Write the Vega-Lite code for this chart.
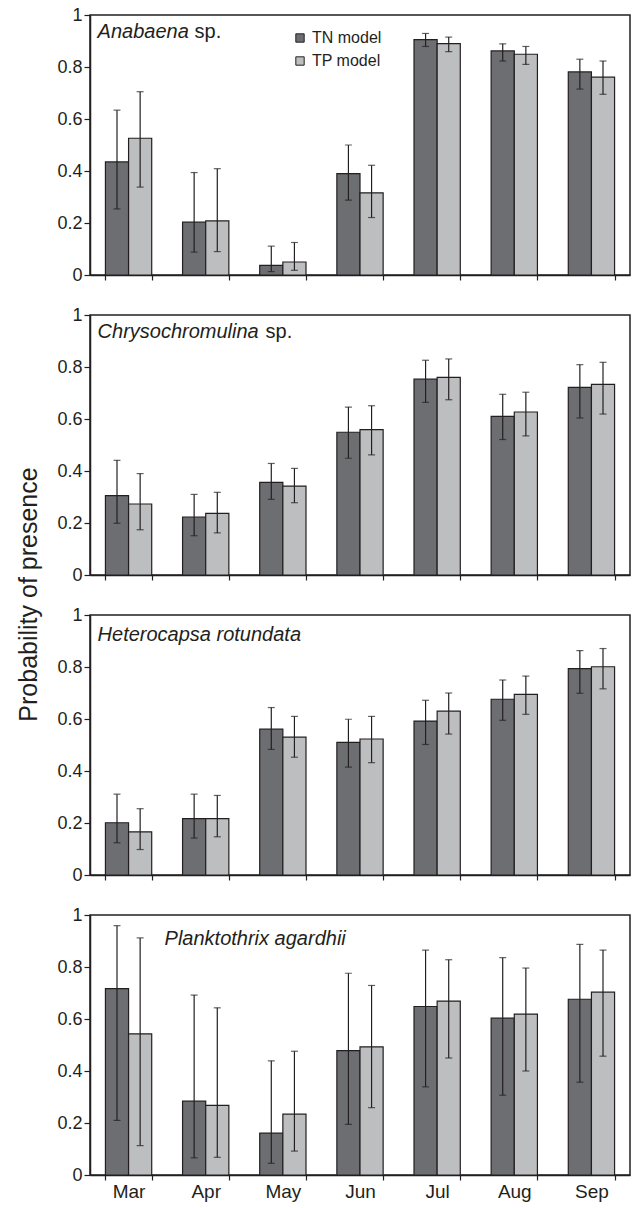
{
  "$schema": "https://vega.github.io/schema/vega-lite/v6.json",
  "padding": {"left": 15, "top": 5, "right": 2, "bottom": 2},
  "spacing": 40,
  "bounds": "flush",
  "datasets": {
    "d": [
      {"sp": "Anabaena", "month": "Mar", "model": "TN", "p": 0.435, "lo": 0.254, "hi": 0.634},
      {"sp": "Anabaena", "month": "Mar", "model": "TP", "p": 0.526, "lo": 0.338, "hi": 0.705},
      {"sp": "Anabaena", "month": "Apr", "model": "TN", "p": 0.203, "lo": 0.088, "hi": 0.394},
      {"sp": "Anabaena", "month": "Apr", "model": "TP", "p": 0.208, "lo": 0.09, "hi": 0.409},
      {"sp": "Anabaena", "month": "May", "model": "TN", "p": 0.037, "lo": 0.013, "hi": 0.111},
      {"sp": "Anabaena", "month": "May", "model": "TP", "p": 0.05, "lo": 0.018, "hi": 0.125},
      {"sp": "Anabaena", "month": "Jun", "model": "TN", "p": 0.39, "lo": 0.288, "hi": 0.5},
      {"sp": "Anabaena", "month": "Jun", "model": "TP", "p": 0.316, "lo": 0.221, "hi": 0.422},
      {"sp": "Anabaena", "month": "Jul", "model": "TN", "p": 0.905, "lo": 0.879, "hi": 0.929},
      {"sp": "Anabaena", "month": "Jul", "model": "TP", "p": 0.89, "lo": 0.859, "hi": 0.915},
      {"sp": "Anabaena", "month": "Aug", "model": "TN", "p": 0.862, "lo": 0.823, "hi": 0.889},
      {"sp": "Anabaena", "month": "Aug", "model": "TP", "p": 0.849, "lo": 0.81, "hi": 0.879},
      {"sp": "Anabaena", "month": "Sep", "model": "TN", "p": 0.781, "lo": 0.715, "hi": 0.83},
      {"sp": "Anabaena", "month": "Sep", "model": "TP", "p": 0.761, "lo": 0.695, "hi": 0.823},
      {"sp": "Chrysochromulina", "month": "Mar", "model": "TN", "p": 0.305, "lo": 0.199, "hi": 0.441},
      {"sp": "Chrysochromulina", "month": "Mar", "model": "TP", "p": 0.273, "lo": 0.174, "hi": 0.39},
      {"sp": "Chrysochromulina", "month": "Apr", "model": "TN", "p": 0.223, "lo": 0.151, "hi": 0.31},
      {"sp": "Chrysochromulina", "month": "Apr", "model": "TP", "p": 0.237, "lo": 0.162, "hi": 0.318},
      {"sp": "Chrysochromulina", "month": "May", "model": "TN", "p": 0.356, "lo": 0.291, "hi": 0.429},
      {"sp": "Chrysochromulina", "month": "May", "model": "TP", "p": 0.342, "lo": 0.278, "hi": 0.41},
      {"sp": "Chrysochromulina", "month": "Jun", "model": "TN", "p": 0.549, "lo": 0.449, "hi": 0.646},
      {"sp": "Chrysochromulina", "month": "Jun", "model": "TP", "p": 0.559, "lo": 0.462, "hi": 0.651},
      {"sp": "Chrysochromulina", "month": "Jul", "model": "TN", "p": 0.753, "lo": 0.664, "hi": 0.826},
      {"sp": "Chrysochromulina", "month": "Jul", "model": "TP", "p": 0.76, "lo": 0.674, "hi": 0.831},
      {"sp": "Chrysochromulina", "month": "Aug", "model": "TN", "p": 0.61, "lo": 0.521, "hi": 0.695},
      {"sp": "Chrysochromulina", "month": "Aug", "model": "TP", "p": 0.627, "lo": 0.535, "hi": 0.703},
      {"sp": "Chrysochromulina", "month": "Sep", "model": "TN", "p": 0.722, "lo": 0.604, "hi": 0.809},
      {"sp": "Chrysochromulina", "month": "Sep", "model": "TP", "p": 0.733, "lo": 0.619, "hi": 0.818},
      {"sp": "Heterocapsa", "month": "Mar", "model": "TN", "p": 0.201, "lo": 0.124, "hi": 0.311},
      {"sp": "Heterocapsa", "month": "Mar", "model": "TP", "p": 0.166, "lo": 0.098, "hi": 0.255},
      {"sp": "Heterocapsa", "month": "Apr", "model": "TN", "p": 0.217, "lo": 0.142, "hi": 0.311},
      {"sp": "Heterocapsa", "month": "Apr", "model": "TP", "p": 0.217, "lo": 0.147, "hi": 0.306},
      {"sp": "Heterocapsa", "month": "May", "model": "TN", "p": 0.561, "lo": 0.483, "hi": 0.644},
      {"sp": "Heterocapsa", "month": "May", "model": "TP", "p": 0.53, "lo": 0.453, "hi": 0.61},
      {"sp": "Heterocapsa", "month": "Jun", "model": "TN", "p": 0.51, "lo": 0.415, "hi": 0.599},
      {"sp": "Heterocapsa", "month": "Jun", "model": "TP", "p": 0.523, "lo": 0.432, "hi": 0.61},
      {"sp": "Heterocapsa", "month": "Jul", "model": "TN", "p": 0.592, "lo": 0.502, "hi": 0.672},
      {"sp": "Heterocapsa", "month": "Jul", "model": "TP", "p": 0.63, "lo": 0.542, "hi": 0.7},
      {"sp": "Heterocapsa", "month": "Aug", "model": "TN", "p": 0.676, "lo": 0.595, "hi": 0.75},
      {"sp": "Heterocapsa", "month": "Aug", "model": "TP", "p": 0.695, "lo": 0.618, "hi": 0.765},
      {"sp": "Heterocapsa", "month": "Sep", "model": "TN", "p": 0.794, "lo": 0.699, "hi": 0.863},
      {"sp": "Heterocapsa", "month": "Sep", "model": "TP", "p": 0.801, "lo": 0.716, "hi": 0.871},
      {"sp": "Planktothrix", "month": "Mar", "model": "TN", "p": 0.717, "lo": 0.21, "hi": 0.959},
      {"sp": "Planktothrix", "month": "Mar", "model": "TP", "p": 0.543, "lo": 0.113, "hi": 0.912},
      {"sp": "Planktothrix", "month": "Apr", "model": "TN", "p": 0.284, "lo": 0.066, "hi": 0.692},
      {"sp": "Planktothrix", "month": "Apr", "model": "TP", "p": 0.268, "lo": 0.068, "hi": 0.643},
      {"sp": "Planktothrix", "month": "May", "model": "TN", "p": 0.161, "lo": 0.045, "hi": 0.439},
      {"sp": "Planktothrix", "month": "May", "model": "TP", "p": 0.234, "lo": 0.092, "hi": 0.476},
      {"sp": "Planktothrix", "month": "Jun", "model": "TN", "p": 0.478, "lo": 0.195, "hi": 0.776},
      {"sp": "Planktothrix", "month": "Jun", "model": "TP", "p": 0.493, "lo": 0.259, "hi": 0.729},
      {"sp": "Planktothrix", "month": "Jul", "model": "TN", "p": 0.648, "lo": 0.339, "hi": 0.865},
      {"sp": "Planktothrix", "month": "Jul", "model": "TP", "p": 0.669, "lo": 0.45, "hi": 0.828},
      {"sp": "Planktothrix", "month": "Aug", "model": "TN", "p": 0.603, "lo": 0.307, "hi": 0.836},
      {"sp": "Planktothrix", "month": "Aug", "model": "TP", "p": 0.619, "lo": 0.4, "hi": 0.796},
      {"sp": "Planktothrix", "month": "Sep", "model": "TN", "p": 0.676, "lo": 0.357, "hi": 0.887},
      {"sp": "Planktothrix", "month": "Sep", "model": "TP", "p": 0.703, "lo": 0.457, "hi": 0.865}
    ],
    "lab": [
      {"sp": "Anabaena", "it": "Anabaena", "pl": "sp."},
      {"sp": "Chrysochromulina", "it": "Chrysochromulina", "pl": "sp."},
      {"sp": "Heterocapsa", "it": "Heterocapsa rotundata", "pl": ""},
      {"sp": "Planktothrix", "it": "Planktothrix agardhii", "pl": ""}
    ]
  },
  "data": {"name": "d"},
  "vconcat": [
    {
      "width": 540, "height": 260,
      "transform": [{"filter": "datum.sp == 'Anabaena'"}],
      "encoding": {
        "x": {"field": "month", "type": "nominal", "sort": ["Mar", "Apr", "May", "Jun", "Jul", "Aug", "Sep"], "scale": {"paddingInner": 0.4, "paddingOuter": 0.2}, "axis": {"title": null, "labels": false, "tickBand": "extent", "tickSize": 5}}
      },
      "layer": [
        {"mark": {"type": "bar", "stroke": "#231f20", "strokeWidth": 1.2}, "encoding": {"xOffset": {"field": "model", "type": "nominal", "sort": ["TN", "TP"]}, "y": {"field": "p", "type": "quantitative", "scale": {"domain": [0, 1], "nice": false}, "axis": {"title": null, "values": [0, 0.2, 0.4, 0.6, 0.8, 1], "format": "~g", "tickSize": 6, "labelPadding": 2, "labelFontSize": 18}}, "color": {"field": "model", "type": "nominal", "scale": {"domain": ["TN", "TP"], "range": ["#6d6e71", "#bcbec0"]}, "legend": {"orient": "none", "legendX": 202, "legendY": 15, "title": null, "symbolType": "square", "symbolSize": 70, "symbolStrokeColor": "#231f20", "symbolStrokeWidth": 1, "labelFontSize": 16, "labelOffset": 4, "rowPadding": 7, "padding": 0, "labelExpr": "datum.label + ' model'"}}}},
        {"mark": {"type": "rule", "color": "#231f20", "strokeWidth": 1.2}, "encoding": {"xOffset": {"field": "model", "type": "nominal", "sort": ["TN", "TP"]}, "y": {"field": "lo", "type": "quantitative"}, "y2": {"field": "hi"}}},
        {"mark": {"type": "tick", "color": "#231f20", "thickness": 1.2, "size": 7}, "encoding": {"xOffset": {"field": "model", "type": "nominal", "sort": ["TN", "TP"]}, "y": {"field": "hi", "type": "quantitative"}}},
        {"mark": {"type": "tick", "color": "#231f20", "thickness": 1.2, "size": 7}, "encoding": {"xOffset": {"field": "model", "type": "nominal", "sort": ["TN", "TP"]}, "y": {"field": "lo", "type": "quantitative"}}},
        {"data": {"name": "lab"}, "transform": [{"filter": "datum.sp == 'Anabaena'"}], "mark": {"type": "text", "fontStyle": "italic", "fontSize": 20, "align": "left", "baseline": "alphabetic", "dx": -31, "color": "#231f20"}, "encoding": {"x": {"datum": "Mar", "type": "nominal"}, "y": {"datum": 0.91, "type": "quantitative"}, "text": {"field": "it"}}},
        {"data": {"name": "lab"}, "transform": [{"filter": "datum.sp == 'Anabaena'"}], "mark": {"type": "text", "fontSize": 20, "align": "left", "baseline": "alphabetic", "dx": 66, "color": "#231f20"}, "encoding": {"x": {"datum": "Mar", "type": "nominal"}, "y": {"datum": 0.91, "type": "quantitative"}, "text": {"field": "pl"}}}
      ]
    },
    {
      "width": 540, "height": 260,
      "transform": [{"filter": "datum.sp == 'Chrysochromulina'"}],
      "encoding": {
        "x": {"field": "month", "type": "nominal", "sort": ["Mar", "Apr", "May", "Jun", "Jul", "Aug", "Sep"], "scale": {"paddingInner": 0.4, "paddingOuter": 0.2}, "axis": {"title": null, "labels": false, "tickBand": "extent", "tickSize": 5}}
      },
      "layer": [
        {"mark": {"type": "bar", "stroke": "#231f20", "strokeWidth": 1.2}, "encoding": {"xOffset": {"field": "model", "type": "nominal", "sort": ["TN", "TP"]}, "y": {"field": "p", "type": "quantitative", "scale": {"domain": [0, 1], "nice": false}, "axis": {"title": "Probability of presence", "titleFontSize": 25, "titleFontWeight": "normal", "titleColor": "#231f20", "titleAngle": -90, "titleBaseline": "alphabetic", "titleAlign": "center", "titleX": -54, "titleY": 279, "values": [0, 0.2, 0.4, 0.6, 0.8, 1], "format": "~g", "tickSize": 6, "labelPadding": 2, "labelFontSize": 18}}, "color": {"field": "model", "type": "nominal", "scale": {"domain": ["TN", "TP"], "range": ["#6d6e71", "#bcbec0"]}, "legend": {"orient": "none", "legendX": 202, "legendY": 15, "title": null, "symbolType": "square", "symbolSize": 70, "symbolStrokeColor": "#231f20", "symbolStrokeWidth": 1, "labelFontSize": 16, "labelOffset": 4, "rowPadding": 7, "padding": 0, "labelExpr": "datum.label + ' model'"}}}},
        {"mark": {"type": "rule", "color": "#231f20", "strokeWidth": 1.2}, "encoding": {"xOffset": {"field": "model", "type": "nominal", "sort": ["TN", "TP"]}, "y": {"field": "lo", "type": "quantitative"}, "y2": {"field": "hi"}}},
        {"mark": {"type": "tick", "color": "#231f20", "thickness": 1.2, "size": 7}, "encoding": {"xOffset": {"field": "model", "type": "nominal", "sort": ["TN", "TP"]}, "y": {"field": "hi", "type": "quantitative"}}},
        {"mark": {"type": "tick", "color": "#231f20", "thickness": 1.2, "size": 7}, "encoding": {"xOffset": {"field": "model", "type": "nominal", "sort": ["TN", "TP"]}, "y": {"field": "lo", "type": "quantitative"}}},
        {"data": {"name": "lab"}, "transform": [{"filter": "datum.sp == 'Chrysochromulina'"}], "mark": {"type": "text", "fontStyle": "italic", "fontSize": 20, "align": "left", "baseline": "alphabetic", "dx": -31, "color": "#231f20"}, "encoding": {"x": {"datum": "Mar", "type": "nominal"}, "y": {"datum": 0.91, "type": "quantitative"}, "text": {"field": "it"}}},
        {"data": {"name": "lab"}, "transform": [{"filter": "datum.sp == 'Chrysochromulina'"}], "mark": {"type": "text", "fontSize": 20, "align": "left", "baseline": "alphabetic", "dx": 137, "color": "#231f20"}, "encoding": {"x": {"datum": "Mar", "type": "nominal"}, "y": {"datum": 0.91, "type": "quantitative"}, "text": {"field": "pl"}}}
      ]
    },
    {
      "width": 540, "height": 260,
      "transform": [{"filter": "datum.sp == 'Heterocapsa'"}],
      "encoding": {
        "x": {"field": "month", "type": "nominal", "sort": ["Mar", "Apr", "May", "Jun", "Jul", "Aug", "Sep"], "scale": {"paddingInner": 0.4, "paddingOuter": 0.2}, "axis": {"title": null, "labels": false, "tickBand": "extent", "tickSize": 5}}
      },
      "layer": [
        {"mark": {"type": "bar", "stroke": "#231f20", "strokeWidth": 1.2}, "encoding": {"xOffset": {"field": "model", "type": "nominal", "sort": ["TN", "TP"]}, "y": {"field": "p", "type": "quantitative", "scale": {"domain": [0, 1], "nice": false}, "axis": {"title": null, "values": [0, 0.2, 0.4, 0.6, 0.8, 1], "format": "~g", "tickSize": 6, "labelPadding": 2, "labelFontSize": 18}}, "color": {"field": "model", "type": "nominal", "scale": {"domain": ["TN", "TP"], "range": ["#6d6e71", "#bcbec0"]}, "legend": {"orient": "none", "legendX": 202, "legendY": 15, "title": null, "symbolType": "square", "symbolSize": 70, "symbolStrokeColor": "#231f20", "symbolStrokeWidth": 1, "labelFontSize": 16, "labelOffset": 4, "rowPadding": 7, "padding": 0, "labelExpr": "datum.label + ' model'"}}}},
        {"mark": {"type": "rule", "color": "#231f20", "strokeWidth": 1.2}, "encoding": {"xOffset": {"field": "model", "type": "nominal", "sort": ["TN", "TP"]}, "y": {"field": "lo", "type": "quantitative"}, "y2": {"field": "hi"}}},
        {"mark": {"type": "tick", "color": "#231f20", "thickness": 1.2, "size": 7}, "encoding": {"xOffset": {"field": "model", "type": "nominal", "sort": ["TN", "TP"]}, "y": {"field": "hi", "type": "quantitative"}}},
        {"mark": {"type": "tick", "color": "#231f20", "thickness": 1.2, "size": 7}, "encoding": {"xOffset": {"field": "model", "type": "nominal", "sort": ["TN", "TP"]}, "y": {"field": "lo", "type": "quantitative"}}},
        {"data": {"name": "lab"}, "transform": [{"filter": "datum.sp == 'Heterocapsa'"}], "mark": {"type": "text", "fontStyle": "italic", "fontSize": 20, "align": "left", "baseline": "alphabetic", "dx": -31, "color": "#231f20"}, "encoding": {"x": {"datum": "Mar", "type": "nominal"}, "y": {"datum": 0.9, "type": "quantitative"}, "text": {"field": "it"}}}
      ]
    },
    {
      "width": 540, "height": 260,
      "transform": [{"filter": "datum.sp == 'Planktothrix'"}],
      "encoding": {
        "x": {"field": "month", "type": "nominal", "sort": ["Mar", "Apr", "May", "Jun", "Jul", "Aug", "Sep"], "scale": {"paddingInner": 0.4, "paddingOuter": 0.2}, "axis": {"title": null, "labels": true, "labelAngle": 0, "labelFontSize": 19, "labelPadding": 2, "tickBand": "extent", "tickSize": 5}}
      },
      "layer": [
        {"mark": {"type": "bar", "stroke": "#231f20", "strokeWidth": 1.2}, "encoding": {"xOffset": {"field": "model", "type": "nominal", "sort": ["TN", "TP"]}, "y": {"field": "p", "type": "quantitative", "scale": {"domain": [0, 1], "nice": false}, "axis": {"title": null, "values": [0, 0.2, 0.4, 0.6, 0.8, 1], "format": "~g", "tickSize": 6, "labelPadding": 2, "labelFontSize": 18}}, "color": {"field": "model", "type": "nominal", "scale": {"domain": ["TN", "TP"], "range": ["#6d6e71", "#bcbec0"]}, "legend": {"orient": "none", "legendX": 202, "legendY": 15, "title": null, "symbolType": "square", "symbolSize": 70, "symbolStrokeColor": "#231f20", "symbolStrokeWidth": 1, "labelFontSize": 16, "labelOffset": 4, "rowPadding": 7, "padding": 0, "labelExpr": "datum.label + ' model'"}}}},
        {"mark": {"type": "rule", "color": "#231f20", "strokeWidth": 1.2}, "encoding": {"xOffset": {"field": "model", "type": "nominal", "sort": ["TN", "TP"]}, "y": {"field": "lo", "type": "quantitative"}, "y2": {"field": "hi"}}},
        {"mark": {"type": "tick", "color": "#231f20", "thickness": 1.2, "size": 7}, "encoding": {"xOffset": {"field": "model", "type": "nominal", "sort": ["TN", "TP"]}, "y": {"field": "hi", "type": "quantitative"}}},
        {"mark": {"type": "tick", "color": "#231f20", "thickness": 1.2, "size": 7}, "encoding": {"xOffset": {"field": "model", "type": "nominal", "sort": ["TN", "TP"]}, "y": {"field": "lo", "type": "quantitative"}}},
        {"data": {"name": "lab"}, "transform": [{"filter": "datum.sp == 'Planktothrix'"}], "mark": {"type": "text", "fontStyle": "italic", "fontSize": 20, "align": "left", "baseline": "alphabetic", "dx": 36, "color": "#231f20"}, "encoding": {"x": {"datum": "Mar", "type": "nominal"}, "y": {"datum": 0.885, "type": "quantitative"}, "text": {"field": "it"}}}
      ]
    }
  ],
  "config": {
    "font": "Liberation Sans",
    "view": {"stroke": "#231f20", "strokeWidth": 1.5},
    "axis": {"domainColor": "#231f20", "domainWidth": 1.5, "tickColor": "#231f20", "tickWidth": 1.2, "labelColor": "#231f20", "grid": false},
    "legend": {"labelColor": "#231f20"}
  }
}
